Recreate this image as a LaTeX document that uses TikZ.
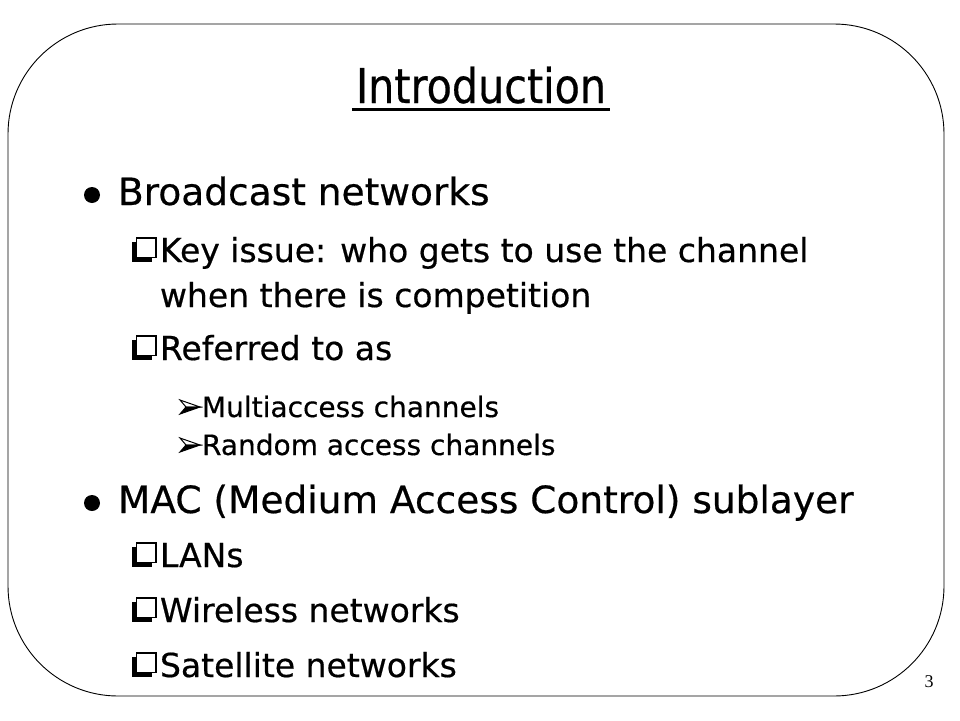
\documentclass[tikz,border=0pt]{standalone}
\usepackage{graphicx}
\usepackage{fontspec}
\setmainfont[FakeBold=0.5]{DejaVu Sans}
\newfontfamily\numfont{Liberation Serif}
\begin{document}
\begin{tikzpicture}[x=1pt,y=1pt,
  txt/.style={anchor=base west,inner sep=0pt,outer sep=0pt},
  lone/.style={txt,font=\fontsize{37.5}{45}\selectfont},
  ltwo/.style={txt,font=\fontsize{33}{40}\selectfont},
  lthree/.style={txt,font=\fontsize{28}{34}\selectfont},
  sqb/.pic={\fill (0,0) rectangle (20,20);
            \filldraw[fill=white,line width=1.6pt] (4.5,4.5) rectangle (24,24);},
  arb/.pic={\filldraw[fill=white,line width=1pt,line join=miter] (20,10) -- (0,17) -- (6,10) -- cycle;
            \filldraw[line width=1pt,line join=miter] (20,10) -- (6,10) -- (0,3) -- cycle;},
]
\useasboundingbox (0,0) rectangle (960,-720);
\draw[line width=0.9pt, rounded corners=110pt] (8,-24) rectangle (944,-696);

% title
\node[anchor=base,inner sep=0pt] (title) at (481,-103)
  {\fontsize{48}{56}\selectfont\scalebox{0.86}[1]{Introduction}};
\draw[line width=3pt] ([xshift=-4pt,yshift=-6pt]title.base west) -- ([xshift=4pt,yshift=-6pt]title.base east);

% level 1
\fill (92,-195) circle (8);
\node[lone] (bn) at (118,-205) {Broadcast networks};
\fill (92,-503) circle (8);
\node[lone] (mac) at (118,-513) {MAC (Medium Access Control) sublayer};

% level 2
\pic at (132,-262) {sqb};
\node[ltwo] (key1) at (160,-262) {Key issue: who gets to use the channel};
\node[ltwo] (key2) at (160,-307) {when there is competition};
\pic at (132,-360) {sqb};
\node[ltwo] (ref) at (160,-360) {Referred to as};
\pic at (132,-567) {sqb};
\node[ltwo] (lan) at (160,-567) {LANs};
\pic at (132,-622) {sqb};
\node[ltwo] (wl) at (160,-622) {Wireless networks};
\pic at (132,-677) {sqb};
\node[ltwo] (sat) at (160,-677) {Satellite networks};

% level 3
\pic at (180,-417) {arb};
\node[lthree] (multi) at (202,-417) {Multiaccess channels};
\pic at (180,-455) {arb};
\node[lthree] (rand) at (202,-455) {Random access channels};

% page number
\node[anchor=base,inner sep=0pt] (pg) at (929,-687) {\fontsize{18}{20}\selectfont\numfont 3};
\end{tikzpicture}
\end{document}
